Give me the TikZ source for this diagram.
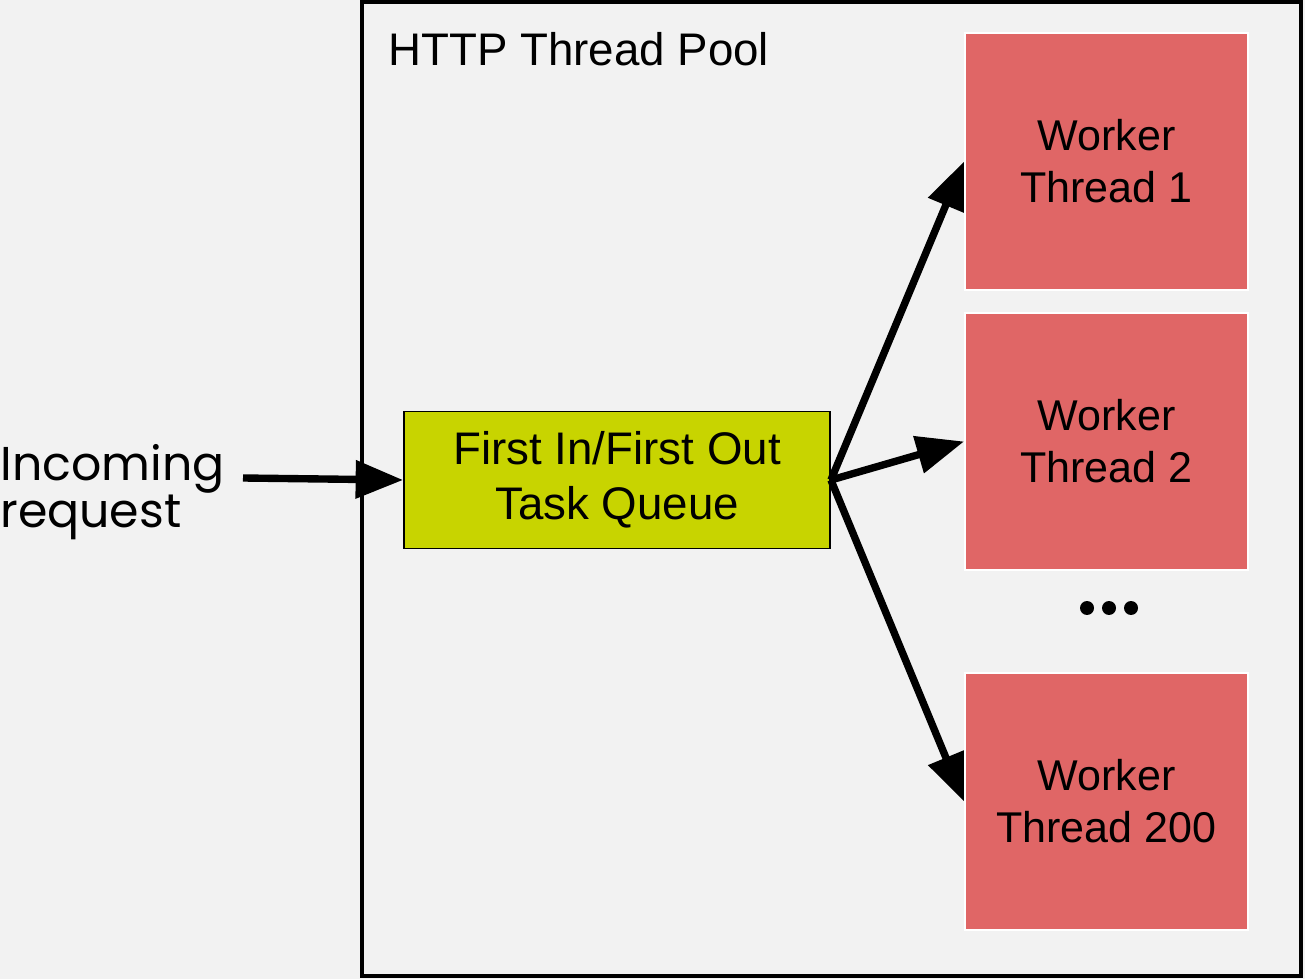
\documentclass[tikz,border=0pt]{standalone}
\usepackage{fontspec}
\setmainfont{Liberation Sans}
\newfontfamily\geofont{Poppins}
\usetikzlibrary{arrows.meta,positioning}
\definecolor{poolgray}{HTML}{F2F2F2}
\definecolor{queueyellow}{HTML}{C8D400}
\definecolor{workerred}{HTML}{E06666}
\tikzset{
  worker/.style={rectangle,draw=white,line width=1.1pt,fill=workerred,
    minimum width=5.66cm,minimum height=5.14cm,align=center,
    font=\fontsize{24.5}{29.5}\selectfont},
  feed/.style={line width=4.2pt,-{Triangle[length=27pt,width=21pt]}},
}
\begin{document}
\begin{tikzpicture}[x=0.02cm,y=-0.02cm]
\fill[poolgray] (0,0) rectangle (1305,979);
\useasboundingbox (0,0) rectangle (1305,979);
% the pool
\node[draw=black,line width=2.3pt,minimum width=18.78cm,minimum height=19.48cm,inner sep=0pt] (pool) at (831.5,489) {};
\node[anchor=base west,inner sep=0pt,font=\fontsize{26}{31}\selectfont] (title) at (388,66) {HTTP Thread Pool};

% queue and workers
\node[draw=black,line width=1.1pt,fill=queueyellow,minimum width=8.52cm,minimum height=2.74cm,align=center,font=\fontsize{26}{31.2}\selectfont] (queue) at (617,480) {First In/First Out\\Task Queue};
\node[worker] (w1) at (1106.5,161.5) {Worker\\Thread 1};
\node[worker] (w2) at (1106.5,441.5) {Worker\\Thread 2};
\node[worker] (w200) at (1106.5,801.5) {Worker\\Thread 200};
\fill (1087,608) circle (0.14cm);
\fill (1109,608) circle (0.14cm);
\fill (1131,608) circle (0.14cm);

% incoming side
\node[anchor=base west,inner sep=0pt,align=left,font=\geofont\fontsize{27}{25.5}\selectfont] (incoming) at (0,528) {Incoming\\request};
\coordinate (entry) at (243,478);

\draw[feed] (entry) -- (queue.west);
\draw[feed] (queue.east) -- (w1.west);
\draw[feed] (queue.east) -- (w2.west);
\draw[feed] (queue.east) -- (w200.west);
\end{tikzpicture}
\end{document}
